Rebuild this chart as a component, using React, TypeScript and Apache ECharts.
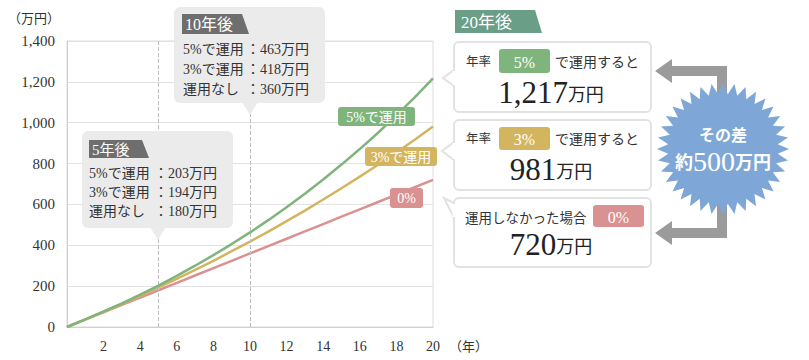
import React, { useEffect, useRef } from "react";
import * as echarts from "echarts";

const years = [0, 1, 2, 3, 4, 5, 6, 7, 8, 9, 10, 11, 12, 13, 14, 15, 16, 17, 18, 19, 20];
const rate0 = [0, 36, 72, 108, 144, 180, 216, 252, 288, 324, 360, 396, 432, 468, 504, 540, 576, 612, 648, 684, 720];
const rate3 = [0, 37, 74, 113, 153, 194, 236, 280, 324, 371, 418, 467, 518, 570, 624, 679, 736, 794, 854, 917, 981];
const rate5 = [0, 37, 76, 116, 159, 203, 250, 300, 352, 406, 463, 523, 586, 652, 722, 795, 871, 951, 1036, 1124, 1217];
const yTicks = [0, 200, 400, 600, 800, 1000, 1200, 1400];
const xTicks = [2, 4, 6, 8, 10, 12, 14, 16, 18, 20];

const C5 = "#7fb57c";
const C3 = "#d3b55f";
const C0 = "#d99191";
const FONT = "'Liberation Serif', 'DejaVu Serif', 'Noto Sans CJK JP', serif";
const TXT = "#333";

function txt(text: string, x: number, y: number, size: number, fill = TXT, align = "left", extra: any = {}) {
  return {
    type: "text",
    z: 100,
    style: {
      text, x, y, fill, fontSize: size, fontFamily: FONT,
      align, verticalAlign: "middle", textAlign: align, textVerticalAlign: "middle",
      ...extra,
    },
  };
}

function tag(x: number, y: number, w: number, h: number, color: string) {
  return {
    type: "polygon",
    z: 99,
    shape: { points: [[x, y], [x + w, y], [x + w + 7, y + h], [x, y + h]] },
    style: { fill: color },
  };
}

function starPoints(cx: number, cy: number, ro: number, ri: number, n: number) {
  const pts: number[][] = [];
  for (let i = 0; i < n * 2; i++) {
    const a = (Math.PI * i) / n - Math.PI / 2;
    const r = i % 2 === 0 ? ro : ri;
    pts.push([cx + r * Math.cos(a), cy + r * Math.sin(a)]);
  }
  return pts;
}

export default function App() {
  const ref = useRef<HTMLDivElement>(null);
  useEffect(() => {
    if (!ref.current) return;
    const chart = echarts.init(ref.current, null, { renderer: "svg" });
    const pair = (arr: number[]) => years.map((y, i) => [y, arr[i]]);
    const fmt = (v: number) => String(v).replace(/\B(?=(\d{3})+(?!\d))/g, ",");

    const tipBox = (x: number, y: number, w: number, h: number, px: number) => [
      { type: "rect", z: 98, shape: { x, y, width: w, height: h, r: 6 }, style: { fill: "#ebebeb" } },
      {
        type: "polygon", z: 98,
        shape: { points: [[px - 8, y + h - 1], [px + 8, y + h - 1], [px, y + h + 12]] },
        style: { fill: "#ebebeb" },
      },
    ];

    const whiteBox = (x: number, y: number, w: number, h: number, tri: number[][]) => [
      { type: "rect", z: 98, shape: { x, y, width: w, height: h, r: 5 }, style: { fill: "#fff", stroke: "#e2e2e2", lineWidth: 2 } },
      { type: "polygon", z: 98, shape: { points: tri }, style: { fill: "#fff", stroke: "#e2e2e2", lineWidth: 2 } },
      { type: "line", z: 98, shape: { x1: tri[0][0], y1: tri[0][1] + 1, x2: tri[2][0], y2: tri[2][1] - 1 }, style: { stroke: "#fff", lineWidth: 3 } },
    ];

    const badge = (x: number, y: number, w: number, h: number, color: string, t: string) => [
      { type: "rect", z: 99, shape: { x, y, width: w, height: h, r: 3 }, style: { fill: color } },
      txt(t, x + w / 2, y + h / 2 + 1, 16, "#fff", "center"),
    ];

    const big = (t: string, cx: number, cy: number) => ({
      type: "text",
      z: 100,
      style: {
        text: `{a|${t}}{b|万円}`,
        x: cx, y: cy, align: "center", verticalAlign: "middle", textAlign: "center", textVerticalAlign: "middle",
        rich: {
          a: { fontSize: 31, fontFamily: FONT, fill: "#222", color: "#222" },
          b: { fontSize: 18, fontFamily: FONT, fill: "#222", color: "#222", padding: [6, 0, 0, 0] },
        },
      },
    });

    const TS = 14;
    const graphic: any[] = [
      txt("（万円）", 8, 18, 13),
      txt("（年）", 449, 346, 13),
      // 5-year tooltip
      ...tipBox(82, 131, 151, 97, 158),
      tag(89, 140, 53, 18, "#6e6e6e"),
      txt("5年後", 92, 149.5, 15, "#fff"),
      txt("5%で運用", 89, 173, TS),
      txt("3%で運用", 89, 192, TS),
      txt("運用なし", 89, 211, TS),
      txt("：203万円", 154, 173, TS),
      txt("：194万円", 154, 192, TS),
      txt("：180万円", 154, 211, TS),
      // 10-year tooltip
      ...tipBox(174, 7, 151, 96, 250),
      tag(182, 14, 60, 20, "#6e6e6e"),
      txt("10年後", 185, 24.5, 16, "#fff"),
      txt("5%で運用", 183, 49, TS),
      txt("3%で運用", 183, 69, TS),
      txt("運用なし", 183, 89, TS),
      txt("：463万円", 246, 49, TS),
      txt("：418万円", 246, 69, TS),
      txt("：360万円", 246, 89, TS),
      // line labels
      { type: "rect", z: 99, shape: { x: 338, y: 107, width: 77, height: 19, r: 3 }, style: { fill: C5 } },
      txt("5%で運用", 376.5, 117, 14, "#fff", "center"),
      { type: "rect", z: 99, shape: { x: 365, y: 147, width: 72, height: 19, r: 3 }, style: { fill: C3 } },
      txt("3%で運用", 401, 157, 14, "#fff", "center"),
      { type: "rect", z: 99, shape: { x: 390, y: 188, width: 33, height: 20, r: 3 }, style: { fill: C0 } },
      txt("0%", 406.5, 198.5, 14, "#fff", "center"),
      // 20-year header
      tag(455, 10, 80, 23, "#6b9e87"),
      txt("20年後", 461, 22, 17, "#fff"),
      // box 1
      ...whiteBox(454, 42, 197, 70, [[454, 70], [443, 78], [454, 86]]),
      txt("年率", 466, 62, 12.5),
      ...badge(499, 49, 51, 24, C5, "5%"),
      txt("で運用すると", 555, 62, 14),
      big("1,217", 551, 92),
      // box 2
      ...whiteBox(454, 120, 197, 70, [[454, 142], [442, 151], [454, 160]]),
      txt("年率", 466, 139, 12.5),
      ...badge(499, 127, 51, 23, C3, "3%"),
      txt("で運用すると", 555, 139, 14),
      big("981", 551, 169),
      // box 3
      ...whiteBox(454, 198, 197, 69, [[454, 203], [444, 198], [454, 218]]),
      txt("運用しなかった場合", 465, 218, 13.5),
      ...badge(593, 205, 51, 22, C0, "0%"),
      big("720", 551, 244),
      // arrows
      {
        type: "polygon", z: 97,
        shape: { points: [[655, 71], [672, 59], [672, 66], [727, 66], [727, 105], [717, 105], [717, 76], [672, 76], [672, 83]] },
        style: { fill: "#9b9b9b" },
      },
      {
        type: "polygon", z: 97,
        shape: { points: [[655, 233], [672, 221], [672, 228], [717, 228], [717, 195], [727, 195], [727, 238], [672, 238], [672, 245]] },
        style: { fill: "#9b9b9b" },
      },
      // starburst
      { type: "polygon", z: 98, shape: { points: starPoints(723, 149, 66, 55, 36) }, style: { fill: "#7ea6d6" } },
      txt("その差", 723, 135, 16, "#fff", "center", { fontWeight: "bold" }),
      {
        type: "text", z: 100,
        style: {
          text: "{a|約}{b|500}{a|万円}",
          x: 723, y: 161, align: "center", verticalAlign: "middle", textAlign: "center", textVerticalAlign: "middle",
          rich: {
            a: { fontSize: 18, fontFamily: FONT, fill: "#fff", color: "#fff", fontWeight: "bold", padding: [4, 0, 0, 0] },
            b: { fontSize: 28, fontFamily: FONT, fill: "#fff", color: "#fff" },
          },
        },
      },
    ];

    chart.setOption({
      animation: false,
      grid: { left: 67, right: 376, top: 41, bottom: 33, show: true, borderColor: "#dcdcdc", borderWidth: 1, backgroundColor: "transparent" },
      xAxis: {
        type: "value", min: 0, max: 20, interval: 2,
        axisLine: { show: true, lineStyle: { color: "#d0d0d0" } },
        axisTick: { show: false },
        splitLine: { show: false },
        axisLabel: {
          color: TXT, fontSize: 14, fontFamily: FONT, margin: 12,
          formatter: (v: number) => (xTicks.includes(v) ? String(v) : ""),
        },
      },
      yAxis: {
        type: "value", min: 0, max: 1400, interval: 200,
        axisLine: { show: true, lineStyle: { color: "#d0d0d0" } },
        axisTick: { show: false },
        splitLine: { show: true, lineStyle: { color: "#e2e2e2" } },
        axisLabel: {
          color: TXT, fontSize: 15, fontFamily: FONT, margin: 12,
          formatter: (v: number) => (yTicks.includes(v) ? fmt(v) : ""),
        },
      },
      series: [
        {
          type: "line", data: pair(rate0), showSymbol: false, lineStyle: { color: C0, width: 2.5 }, z: 3,
          markLine: {
            silent: true, symbol: "none", label: { show: false },
            lineStyle: { color: "#bdbdbd", type: "dashed", width: 1 },
            data: [{ xAxis: 5 }, { xAxis: 10 }],
          },
        },
        { type: "line", data: pair(rate3), showSymbol: false, lineStyle: { color: C3, width: 2.5 }, z: 4 },
        { type: "line", data: pair(rate5), showSymbol: false, lineStyle: { color: C5, width: 2.5 }, z: 5 },
      ],
      graphic,
    });
    return () => chart.dispose();
  }, []);
  return <div ref={ref} style={{ position: "absolute", left: 0, top: 0, width: 809, height: 360, background: "#fff" }} />;
}
